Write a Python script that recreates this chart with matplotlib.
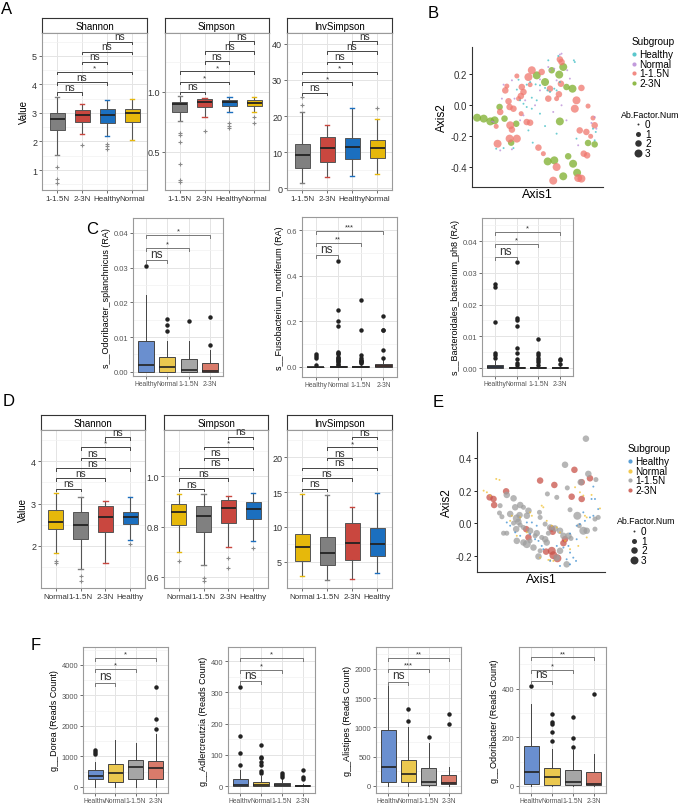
import numpy as np
import matplotlib.pyplot as plt

plt.rcParams['font.family'] = ['Liberation Sans', 'DejaVu Sans']

W, H = 685, 804
fig = plt.figure(figsize=(W / 100, H / 100), dpi=100)


def rect(l, t, r, b):
    return [l / W, 1 - b / H, (r - l) / W, (b - t) / H]


# ---------------- data: panel A (alpha diversity, 4 subgroups) ----------------
a_groups = ["1-1.5N", "2-3N", "Healthy", "Normal"]
a_colors = ["#808080", "#c9473f", "#1b6fbf", "#e6b80b"]
# whisker low, q1, median, q3, whisker high
a_shannon = [[1.54, 2.40, 2.77, 3.00, 3.55], [2.26, 2.67, 2.93, 3.12, 3.32],
             [2.18, 2.66, 2.94, 3.14, 3.45], [2.06, 2.67, 2.99, 3.14, 3.49]]
a_shannon_out = [[1.10, 0.68, 0.55], [1.88], [1.92, 1.83, 1.75], []]
a_simpson = [[0.756, 0.828, 0.894, 0.917, 0.964], [0.786, 0.872, 0.917, 0.936, 0.950],
             [0.828, 0.881, 0.914, 0.930, 0.958], [0.833, 0.883, 0.908, 0.930, 0.956]]
a_simpson_out = [[0.658, 0.639, 0.583, 0.40, 0.264, 0.25], [0.675], [0.736, 0.711, 0.697], [0.79, 0.74]]
a_invsimpson = [[1.4, 5.6, 9.1, 12.2, 21.2], [3.0, 7.2, 11.0, 14.2, 17.6],
                [3.3, 8.2, 11.3, 13.9, 22.1], [3.8, 8.3, 11.0, 13.4, 19.3]]
a_invsimpson_out = [[25.2, 23.0], [], [], [22.1]]
pairs6 = [(1, 2), (1, 3), (1, 4), (2, 3), (2, 4), (3, 4)]
a_shannon_sig = ["ns", "ns", "*", "ns", "ns", "ns"]
a_simpson_sig = ["ns", "*", "*", "ns", "ns", "ns"]
a_invsimpson_sig = ["ns", "*", "*", "ns", "ns", "ns"]
a_shannon_brk = [3.73, 4.08, 4.44, 4.80, 5.15, 5.50]
a_simpson_brk = [1.0, 1.083, 1.169, 1.255, 1.338, 1.42]
a_invsimpson_brk = [26.5, 29.3, 32.2, 35.1, 37.9, 40.7]

# ---------------- data: panel D ----------------
d_groups = ["Normal", "1-1.5N", "2-3N", "Healthy"]
d_colors = ["#e6b80b", "#808080", "#c9473f", "#1b6fbf"]
d_shannon = [[1.83, 2.39, 2.56, 2.84, 3.25], [1.46, 2.17, 2.50, 2.79, 3.16],
             [1.60, 2.32, 2.69, 2.94, 3.06], [2.13, 2.52, 2.68, 2.81, 3.16]]
d_shannon_out = [[1.65, 1.60], [1.29, 1.17], [], [2.04]]
d_simpson = [[0.70, 0.808, 0.86, 0.891, 0.93], [0.647, 0.779, 0.844, 0.883, 0.93],
             [0.717, 0.815, 0.872, 0.905, 0.922], [0.742, 0.83, 0.87, 0.899, 0.934]]
d_simpson_out = [[0.664], [0.596, 0.584], [0.675, 0.636], [0.715]]
d_invsimpson = [[2.9, 5.1, 7.1, 9.0, 14.7], [2.4, 4.5, 6.3, 8.6, 14.6],
                [2.6, 5.3, 7.7, 10.5, 12.9], [3.4, 5.8, 7.6, 9.9, 14.8]]
d_invsimpson_out = [[], [], [], []]
d_sig = ["ns", "ns", "ns", "ns", "*", "ns"]
d_shannon_brk = [3.35, 3.60, 3.84, 4.08, 4.33, 4.57]
d_simpson_brk = [0.950, 0.993, 1.034, 1.074, 1.117, 1.157]
d_invsimpson_brk = [15.5, 17.0, 18.5, 19.9, 21.4, 22.9]

# ---------------- data: panels C and F (taxa) ----------------
cf_groups = ["Healthy", "Normal", "1-1.5N", "2-3N"]
cf_colors = ["#6a8fcf", "#ebc84f", "#a6a6a6", "#d97b6b"]
pairs3 = [(1, 2), (1, 3), (1, 4)]

c1 = [[0, 0.0, 0.0021, 0.0089, 0.022], [0, 0.0, 0.0013, 0.0043, 0.0088],
      [0, 0.0, 0.0005, 0.0036, 0.0089], [0, 0.0, 0.0003, 0.0026, 0.0062]]
c1_out = [[0.0305], [0.0151, 0.0134, 0.0117], [0.0147], [0.0158, 0.0076]]
c1_sig = ["ns", "*", "*"]
c1_brk = [0.0322, 0.0357, 0.0395]

c2 = [[0, 0, 0.001, 0.002, 0.004], [0, 0, 0.001, 0.003, 0.007],
      [0, 0.0005, 0.002, 0.005, 0.012], [0, 0.002, 0.006, 0.015, 0.03]]
c2_out = [[0.055, 0.047, 0.040, 0.008],
          [0.465, 0.249, 0.201, 0.179, 0.067, 0.061, 0.055, 0.045, 0.040, 0.035, 0.030,
           0.025, 0.020, 0.015, 0.010],
          [0.293, 0.163, 0.054, 0.038, 0.032, 0.028, 0.024, 0.020, 0.016],
          [0.224, 0.163, 0.160, 0.076, 0.038]]
c2_sig = ["ns", "**", "***"]
c2_brk = [0.489, 0.543, 0.596]

c3 = [[0, 0, 0.0004, 0.00105, 0.0022], [0, 0, 0.0001, 0.0003, 0.0007],
      [0, 0, 0.0001, 0.0003, 0.0007], [0, 0, 0.0001, 0.0003, 0.0007]]
c3_out = [[0.0264, 0.0257, 0.0146, 0.0047, 0.0041, 0.0032],
          [0.0334, 0.0158, 0.0152, 0.0132, 0.0063, 0.0048, 0.0028, 0.0015, 0.0010],
          [0.0093, 0.0047, 0.0041, 0.0032, 0.0025, 0.0018, 0.0010],
          [0.0030, 0.0024, 0.0012]]
c3_sig = ["ns", "*", "*"]
c3_brk = [0.035, 0.039, 0.0429]

f1 = [[0, 273, 361, 546, 831], [0, 164, 448, 765, 1530], [0, 251, 656, 896, 1432], [0, 251, 623, 863, 1749]]
f1_out = [[1213, 1148, 1093], [], [], [1891, 2240, 3290]]
f1_sig = ["ns", "*", "*"]
f1_brk = [3420, 3858, 4240]
f2 = [[0, 0, 4, 23, 50], [0, 0, 5, 13, 32], [0, 0, 4, 11, 23], [0, 0, 0.5, 3, 6]]
f2_out = [[69, 107, 161, 318], [42, 47, 69, 76, 89, 94, 132], [29, 36, 42], [23, 29, 50]]
f2_sig = ["ns", "*", "*"]
f2_brk = [336, 371, 411]
f3 = [[0, 68, 324, 949, 1705], [0, 68, 199, 449, 1006], [0, 23, 74, 307, 733], [0, 34, 57, 193, 324]]
f3_out = [[], [1318, 1108], [835], [1222, 1051]]
f3_sig = ["ns", "***", "**"]
f3_brk = [1784, 1994, 2193]
f4 = [[0, 7, 56, 163, 338], [0, 3, 37, 74, 153], [0, 3, 16, 64, 150], [0, 3, 10, 58, 133]]
f4_out = [[410], [297, 262, 257, 222, 184], [284, 197, 160], [377]]
f4_sig = ["ns", "*", "**"]
f4_brk = [434, 479, 529]

# ---------------- data: PCoA panels B and E, (axis1, axis2, Ab.Factor.Num) ----------------
b_labels = ["Healthy", "Normal", "1-1.5N", "2-3N"]
b_colors = ["#3dbdc4", "#b88ad6", "#f0776e", "#7dae2b"]
b_healthy = [(-0.265, -0.284, 0), (-0.217, -0.280, 0), (-0.153, -0.280, 0), (-0.120, 0.161, 0),
             (-0.067, 0.129, 0), (-0.045, 0.146, 0), (-0.009, 0.131, 0), (0.019, 0.125, 0),
             (0.052, 0.108, 0), (0.067, 0.092, 0), (0.084, 0.082, 0), (0.112, 0.103, 0),
             (0.127, 0.092, 0), (0.148, 0.146, 0), (0.073, 0.286, 0), (0.138, 0.314, 0),
             (0.239, 0.286, 0), (0.245, 0.275, 0), (-0.067, -0.015, 0), (-0.034, -0.026, 0),
             (0.019, -0.058, 0), (0.052, -0.138, 0), (-0.056, -0.166, 0), (0.127, -0.187, 0),
             (0.256, -0.219, 0), (0.363, -0.155, 0), (0.381, -0.176, 0), (0.374, -0.230, 0),
             (-0.028, -0.245, 0), (-0.034, 0.045, 0), (-0.002, 0.028, 0), (-0.110, 0.028, 0),
             (-0.131, 0.097, 0), (-0.088, 0.006, 0)]
b_normal = [(0.148, 0.323, 0), (0.159, 0.329, 0), (-0.217, 0.129, 0), (-0.163, 0.157, 0),
            (-0.228, 0.039, 0), (-0.146, 0.039, 0), (-0.088, -0.069, 0), (-0.077, 0.028, 0),
            (-0.013, -0.004, 0), (0.019, 0.163, 0), (0.019, 0.092, 0), (0.084, 0.222, 0),
            (0.112, 0.232, 0), (0.127, 0.157, 0), (0.196, 0.222, 0), (0.213, 0.168, 0),
            (0.159, -0.004, 0), (0.105, -0.047, 0), (0.191, -0.101, 0), (0.267, -0.262, 0),
            (0.353, -0.118, 0), (0.374, -0.080, 0), (0.385, -0.155, 0), (0.073, 0.243, 0),
            (-0.282, -0.112, 0), (-0.292, -0.108, 0), (-0.239, -0.295, 0), (-0.163, -0.288, 0),
            (-0.110, -0.101, 0)]
b_low = [(-0.206, 0.092, 2), (-0.196, 0.120, 1), (-0.099, 0.114, 2), (-0.088, 0.082, 2),
         (-0.045, 0.129, 1), (-0.034, 0.222, 3), (-0.056, 0.178, 3), (-0.131, 0.185, 1),
         (-0.105, 0.056, 2), (-0.120, 0.039, 1), (-0.185, 0.022, 2), (-0.178, -0.015, 2),
         (-0.153, -0.026, 2), (-0.239, -0.047, 2), (-0.174, -0.133, 3), (-0.163, -0.161, 2),
         (-0.067, -0.112, 2), (-0.045, -0.116, 2), (-0.178, -0.219, 3), (-0.131, -0.219, 3),
         (-0.256, -0.252, 3), (-0.265, -0.140, 1), (0.030, 0.211, 2), (0.148, 0.292, 2),
         (0.159, 0.275, 2), (0.155, 0.135, 2), (0.084, 0.103, 2), (0.073, 0.039, 2),
         (0.127, 0.039, 1), (0.142, 0.067, 2), (0.256, 0.028, 3), (0.245, -0.026, 3),
         (0.288, 0.108, 2), (0.331, -0.009, 1), (0.277, -0.166, 2), (0.320, -0.176, 2),
         (0.374, -0.133, 2), (0.363, -0.086, 1), (0.348, -0.204, 1), (0.303, -0.316, 2),
         (0.325, -0.327, 2), (0.009, -0.277, 2), (0.041, -0.316, 1), (0.127, -0.402, 3),
         (0.105, -0.490, 3), (0.267, -0.473, 3), (0.288, -0.477, 3), (-0.103, -0.058, 1)]
b_high = [(-0.389, -0.084, 3), (-0.346, -0.090, 3), (-0.303, -0.108, 3), (-0.275, -0.101, 3),
          (-0.211, -0.090, 2), (-0.135, -0.123, 2), (-0.243, -0.015, 2), (-0.168, -0.245, 2),
          (-0.002, 0.189, 3), (0.052, 0.146, 3), (0.095, 0.222, 2), (0.144, 0.194, 3),
          (0.170, 0.243, 3), (0.191, 0.114, 2), (0.230, 0.103, 3), (0.148, -0.108, 3),
          (0.069, -0.366, 3), (0.112, -0.359, 3), (0.202, -0.333, 2), (0.234, -0.381, 3),
          (0.260, -0.439, 3), (0.170, -0.462, 3), (0.331, -0.247, 2), (0.374, -0.256, 2)]

e_colors = ["#3d8ecf", "#f0c030", "#9e9e9e", "#c9534a"]
e_healthy = [(0.325, 0.226, 0), (0.335, 0.150, 0), (0.355, 0.088, 0), (0.325, 0.047, 0),
             (0.304, 0.037, 0), (0.273, 0.016, 0), (0.242, -0.004, 0), (0.222, -0.014, 0),
             (0.181, -0.062, 0), (0.171, -0.138, 0), (0.140, -0.148, 0), (0.181, -0.179, 0),
             (0.201, -0.210, 0), (0.218, -0.230, 0), (0.181, -0.251, 0), (0.160, -0.220, 0),
             (0.119, -0.261, 0), (0.058, -0.230, 0), (0.006, -0.138, 0), (-0.014, -0.107, 0),
             (-0.035, -0.097, 0), (-0.025, -0.014, 0), (-0.055, 0.006, 0), (-0.086, 0.006, 0),
             (-0.066, -0.066, 0), (-0.127, -0.076, 0), (-0.189, -0.014, 0), (-0.210, 0.006, 0),
             (-0.158, -0.055, 0), (0.016, -0.158, 0), (0.099, -0.138, 0), (0.222, -0.097, 0),
             (0.263, 0.068, 0), (0.314, 0.150, 0)]
e_normal = [(-0.353, 0.201, 0), (-0.333, 0.191, 0), (-0.312, 0.171, 0), (-0.275, 0.273, 0),
            (-0.255, 0.267, 0), (-0.189, 0.016, 0), (-0.179, 0.047, 0), (-0.127, 0.037, 0),
            (-0.066, 0.068, 0), (-0.055, 0.047, 0), (0.006, 0.109, 0), (0.016, 0.099, 0),
            (0.037, 0.016, 0), (0.068, -0.014, 0), (0.099, -0.025, 0), (0.119, -0.055, 0),
            (0.150, -0.107, 0), (0.212, 0.222, 0), (0.242, 0.191, 0), (0.263, 0.171, 0),
            (0.273, 0.047, 0), (0.284, 0.037, 0), (0.314, 0.175, 0), (0.366, 0.092, 0),
            (0.284, -0.086, 0), (0.232, -0.138, 0), (0.181, -0.158, 0), (0.047, -0.224, 0),
            (0.058, -0.224, 0), (0.078, -0.230, 0), (-0.004, -0.210, 0), (-0.086, -0.055, 0),
            (-0.148, -0.076, 0)]
e_low = [(0.279, 0.520, 2), (0.150, 0.360, 2), (0.294, 0.304, 2), (0.247, 0.253, 2),
         (0.341, 0.269, 1), (0.164, 0.218, 1), (0.099, 0.160, 1), (0.041, 0.181, 1),
         (-0.210, 0.175, 2), (-0.168, 0.154, 2), (-0.158, 0.099, 2), (-0.127, 0.113, 2),
         (-0.107, 0.099, 1), (-0.076, 0.078, 2), (-0.086, 0.047, 2), (-0.131, 0.051, 2),
         (-0.251, 0.109, 1), (-0.255, 0.064, 1), (-0.240, 0.041, 1), (-0.189, 0.058, 2),
         (-0.148, 0.031, 3), (-0.138, 0.010, 2), (-0.168, 0.002, 1), (-0.210, -0.060, 1),
         (-0.230, -0.060, 1), (-0.152, -0.035, 2), (-0.127, -0.010, 1), (-0.107, -0.025, 1),
         (-0.066, -0.045, 2), (-0.025, -0.060, 2), (-0.035, -0.076, 1), (-0.086, -0.127, 3),
         (-0.107, -0.117, 2), (-0.148, -0.107, 2), (0.006, -0.086, 1), (0.027, -0.097, 2),
         (0.047, -0.060, 1), (0.088, -0.031, 2), (0.119, -0.045, 2), (0.140, -0.076, 2),
         (0.171, -0.076, 2), (-0.004, 0.037, 1), (-0.008, 0.068, 1), (0.027, -0.004, 1),
         (0.058, -0.025, 2), (-0.014, -0.203, 2), (-0.004, -0.168, 1), (0.119, -0.168, 2),
         (0.160, -0.251, 2), (0.099, -0.210, 2), (0.181, 0.084, 1), (0.226, 0.047, 3),
         (0.238, -0.014, 1), (0.263, -0.045, 3), (0.284, -0.045, 2), (0.335, -0.035, 1),
         (0.355, 0.037, 1), (0.335, 0.027, 1), (0.187, -0.092, 1), (-0.045, -0.148, 2),
         (-0.066, -0.107, 1), (0.037, -0.117, 2)]
e_high = [(-0.004, 0.263, 2), (0.084, 0.236, 2), (0.208, 0.329, 2), (0.253, 0.253, 2),
          (0.304, 0.277, 2), (0.191, 0.164, 2), (0.253, 0.150, 2), (-0.316, 0.160, 2),
          (-0.292, 0.150, 2), (-0.288, 0.113, 2), (-0.214, 0.197, 2), (-0.090, -0.035, 2),
          (-0.076, -0.086, 2), (0.068, -0.031, 2), (0.074, -0.051, 2), (0.140, -0.121, 2),
          (0.150, -0.097, 2), (0.033, -0.173, 2), (0.068, -0.168, 3), (0.078, -0.195, 3),
          (0.103, -0.214, 3)]
ab_levels = [0, 1, 2, 3]
ab_area = [2, 13, 22, 33]


# ---------------- helpers ----------------
def grid_style(ax, yticks, yminor, ylabels=None, fs=6.5, lc='#333333'):
    ax.set_xticks(range(1, 5))
    ax.set_yticks(yticks)
    if ylabels is not None:
        ax.set_yticklabels(ylabels)
    ax.set_yticks(yminor, minor=True)
    ax.grid(which='major', color='#e4e4e4', lw=0.7)
    ax.grid(which='minor', color='#f2f2f2', lw=0.5)
    ax.set_axisbelow(True)
    ax.tick_params(which='minor', length=0)
    ax.tick_params(which='major', length=2, width=0.6, color='#555555', labelsize=fs,
                   labelcolor=lc, pad=1.5)
    for sp in ax.spines.values():
        sp.set_color('#9a9a9a')
        sp.set_linewidth(0.8)


def boxes(ax, stats, outs, colors, width, facet_style):
    st = [dict(whislo=s[0], q1=s[1], med=s[2], q3=s[3], whishi=s[4], fliers=o)
          for s, o in zip(stats, outs)]
    if facet_style:
        bp = ax.bxp(st, positions=range(1, 5), widths=width, patch_artist=True, capwidths=0.18,
                    boxprops=dict(edgecolor='#555555', linewidth=0.7),
                    whiskerprops=dict(color='#555555', linewidth=0.8),
                    capprops=dict(linewidth=1.0),
                    medianprops=dict(color='#222222', linewidth=1.3),
                    flierprops=dict(marker='+', markeredgecolor='#8a8a8a', markersize=3.5,
                                    markeredgewidth=0.8))
        for cap, c in zip(bp['caps'], np.repeat(colors, 2)):
            cap.set_color(c)
    else:
        bp = ax.bxp(st, positions=range(1, 5), widths=width, patch_artist=True, showcaps=False,
                    boxprops=dict(edgecolor='#444444', linewidth=0.7),
                    whiskerprops=dict(color='#444444', linewidth=0.7),
                    medianprops=dict(color='#222222', linewidth=1.2),
                    flierprops=dict(marker='o', markerfacecolor='#222222', markeredgecolor='#222222',
                                    markersize=2.2))
    for p, c in zip(bp['boxes'], colors):
        p.set_facecolor(c)


def brackets(ax, pairs, ys, labels, h_px, tip_px, fs_ns, fs_star, lc):
    y0, y1 = ax.get_ylim()
    per_px = (y1 - y0) / h_px
    for (a, b), y, lab in zip(pairs, ys, labels):
        ax.plot([a, a, b, b], [y - tip_px * per_px, y, y, y - tip_px * per_px], color=lc, lw=0.7)
        if lab == 'ns':
            ax.text((a + b) / 2, y + 0.3 * per_px, lab, ha='center', va='bottom', fontsize=fs_ns,
                    color='#333333')
        else:
            ax.text((a + b) / 2, y + 0.5 * per_px, lab, ha='center', va='bottom', fontsize=fs_star,
                    color='#333333')


def facet(l, r, t, b, title, stats, outs, groups, colors, ylim, yticks, yminor, brk, sig, ylabel=None):
    s = fig.add_axes(rect(l, t, r, t + 15))
    s.set_xticks([])
    s.set_yticks([])
    for sp in s.spines.values():
        sp.set_color('#333333')
        sp.set_linewidth(0.8)
    s.text(0.5, 0.45, title, ha='center', va='center', fontsize=7, transform=s.transAxes)
    ax = fig.add_axes(rect(l, t + 15, r, b))
    boxes(ax, stats, outs, colors, 0.6, True)
    ax.set_xlim(0.4, 4.6)
    ax.set_ylim(*ylim)
    grid_style(ax, yticks, yminor)
    ax.set_xticklabels(groups)
    ax.tick_params(axis='x', labelsize=5.8, pad=1.5)
    brackets(ax, pairs6, brk, sig, b - t - 15, 2.5, 7.2, 6, '#444444')
    if ylabel:
        ax.set_ylabel(ylabel, fontsize=7, labelpad=2)
    return ax


def taxa(l, r, t, b, stats, outs, ylim, yticks, yminor, ytl, brk, sig, ylabel):
    ax = fig.add_axes(rect(l, t, r, b))
    boxes(ax, stats, outs, cf_colors, 0.75, False)
    ax.set_xlim(0.4, 4.6)
    ax.set_ylim(*ylim)
    grid_style(ax, yticks, yminor, ytl, fs=5.5, lc='#555555')
    ax.set_xticklabels(cf_groups)
    ax.tick_params(axis='x', labelsize=4.9, pad=1)
    brackets(ax, pairs3, brk, sig, b - t, 3, 8.5, 5.5, '#777777')
    ax.set_ylabel(ylabel, fontsize=6.5, labelpad=2)
    return ax


def pcoa(l, r, t, b, sets, colors, xlim, ylim, yticks, ylabs):
    ax = fig.add_axes(rect(l, t, r, b))
    for pts, c in list(zip(sets, colors))[::-1]:
        x = [p[0] for p in pts]
        y = [p[1] for p in pts]
        s = [ab_area[p[2]] for p in pts]
        ax.scatter(x, y, s=s, color=c, alpha=0.75, linewidths=0)
    ax.set_xlim(*xlim)
    ax.set_ylim(*ylim)
    ax.set_xticks([])
    ax.set_yticks(yticks)
    ax.set_yticklabels(ylabs)
    ax.tick_params(axis='y', length=2, width=0.6, labelsize=7, labelcolor='#333333', pad=1.5)
    for k in ['top', 'right']:
        ax.spines[k].set_visible(False)
    for k in ['left', 'bottom']:
        ax.spines[k].set_color('#333333')
        ax.spines[k].set_linewidth(0.8)
    ax.set_xlabel("Axis1", fontsize=9, labelpad=1)
    ax.set_ylabel("Axis2", fontsize=8.5, labelpad=2)
    return ax


# ---------------- panel A ----------------
facet(42, 147, 19, 191, "Shannon", a_shannon, a_shannon_out, a_groups, a_colors, (0.3, 5.8),
      [1, 2, 3, 4, 5], [0.5, 1.5, 2.5, 3.5, 4.5, 5.5], a_shannon_brk, a_shannon_sig, "Value")
facet(165, 269, 19, 191, "Simpson", a_simpson, a_simpson_out, a_groups, a_colors, (0.18, 1.49),
      [0.5, 1.0], [0.25, 0.75, 1.25], a_simpson_brk, a_simpson_sig)
facet(287, 392, 19, 191, "InvSimpson", a_invsimpson, a_invsimpson_out, a_groups, a_colors, (-0.5, 43),
      [0, 10, 20, 30, 40], [5, 15, 25, 35], a_invsimpson_brk, a_invsimpson_sig)

# ---------------- panel D ----------------
facet(41, 145, 416, 589, "Shannon", d_shannon, d_shannon_out, d_groups, d_colors, (1.0, 4.74),
      [2, 3, 4], [1.5, 2.5, 3.5, 4.5], d_shannon_brk, d_sig, "Value")
facet(164, 268, 416, 589, "Simpson", d_simpson, d_simpson_out, d_groups, d_colors, (0.556, 1.184),
      [0.6, 0.8, 1.0], [0.7, 0.9, 1.1], d_simpson_brk, d_sig)
facet(287, 392, 416, 589, "InvSimpson", d_invsimpson, d_invsimpson_out, d_groups, d_colors, (1.25, 23.9),
      [5, 10, 15, 20], [2.5, 7.5, 12.5, 17.5, 22.5], d_invsimpson_brk, d_sig)

# ---------------- panel C ----------------
taxa(133, 223, 219, 377, c1, c1_out, (-0.0012, 0.0443), [0, 0.01, 0.02, 0.03, 0.04],
     [0.005, 0.015, 0.025, 0.035], ["0.00", "0.01", "0.02", "0.03", "0.04"], c1_brk, c1_sig,
     "s__Odoribacter_splanchnicus (RA)")
taxa(302, 397, 218, 378, c2, c2_out, (-0.044, 0.657), [0, 0.2, 0.4, 0.6], [0.1, 0.3, 0.5],
     ["0.0", "0.2", "0.4", "0.6"], c2_brk, c2_sig, "s__Fusobacterium_mortiferum (RA)")
taxa(482, 573, 219, 377, c3, c3_out, (-0.0025, 0.0473), [0, 0.01, 0.02, 0.03, 0.04],
     [0.005, 0.015, 0.025, 0.035, 0.045], ["0.00", "0.01", "0.02", "0.03", "0.04"], c3_brk, c3_sig,
     "s__Bacteroidales_bacterium_ph8 (RA)")

# ---------------- panel F ----------------
taxa(83, 168, 648, 794, f1, f1_out, (-200, 4590), [0, 1000, 2000, 3000, 4000], [500, 1500, 2500, 3500, 4500],
     None, f1_brk, f1_sig, "g__Dorea (Reads Count)")
taxa(228, 315, 648, 794, f2, f2_out, (-22, 445), [0, 100, 200, 300, 400], [50, 150, 250, 350],
     None, f2_brk, f2_sig, "g__Adlercreutzia (Reads Count)")
taxa(376, 461, 648, 794, f3, f3_out, (-120, 2375), [0, 500, 1000, 1500, 2000], [250, 750, 1250, 1750, 2250],
     None, f3_brk, f3_sig, "g__Alistipes (Reads Count)")
taxa(519, 606, 648, 794, f4, f4_out, (-29, 572), [0, 200, 400], [100, 300, 500],
     None, f4_brk, f4_sig, "g__Odoribacter (Reads Count)")

# ---------------- panels B and E ----------------
pcoa(472, 603, 48, 188, [b_healthy, b_normal, b_low, b_high], b_colors, (-0.422, 0.428), (-0.531, 0.372),
     [-0.4, -0.2, 0.0, 0.2], ["-0.4", "-0.2", "0.0", "0.2"])
pcoa(477, 605, 433, 573, [e_healthy, e_normal, e_low, e_high], e_colors, (-0.394, 0.397), (-0.298, 0.561),
     [-0.2, 0.0, 0.2, 0.4], ["-0.2", "0.0", "0.2", "0.4"])

# ---------------- overlay: legends and panel letters ----------------
ov = fig.add_axes([0, 0, 1, 1], zorder=10)
ov.set_xlim(0, W)
ov.set_ylim(H, 0)
ov.axis('off')


def legend(x0, y0, colors, y_sub, x_ab, y_ab):
    ov.text(x0, y0, "Subgroup", fontsize=7.2, va='center', ha='left')
    for i, (lab, c) in enumerate(zip(b_labels, colors)):
        yy = y0 + 13 + i * y_sub
        ov.scatter([x0 + 2], [yy], s=9, color=c, alpha=0.85, linewidths=0)
        ov.text(x0 + 7, yy, lab, fontsize=7.2, va='center', ha='left')
    ov.text(x_ab, y_ab, "Ab.Factor.Num", fontsize=6.3, va='center', ha='left')
    for i, (lv, a) in enumerate(zip(ab_levels, ab_area)):
        yy = y_ab + 10 + i * 9.7
        ov.scatter([x_ab + 17], [yy], s=a, color='#333333', linewidths=0)
        ov.text(x_ab + 24, yy, str(lv), fontsize=7.2, va='center', ha='left')


legend(632, 42, b_colors, 9.7, 621, 115)
legend(628, 449, e_colors, 9.7, 617, 522)

for let, x, y in [("A", 7, 9), ("B", 433, 13), ("C", 92, 230), ("D", 9, 402), ("E", 438, 403), ("F", 36, 646)]:
    ov.text(x, y, let, fontsize=12, ha='center', va='center')

fig.savefig("out.png", dpi=100)
